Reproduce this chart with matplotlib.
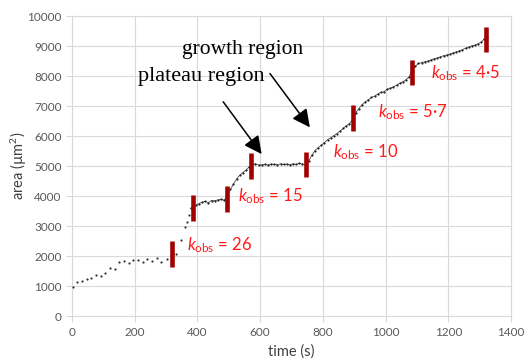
import matplotlib.pyplot as plt

plt.rcParams['mathtext.fontset'] = 'custom'
plt.rcParams['mathtext.rm'] = 'Lato'
plt.rcParams['mathtext.it'] = 'Lato:italic'

# early, sparse readings (every ~15 s)
t_early = [2, 17, 32, 47, 62, 77, 91, 106, 121, 136, 151, 166, 181, 196, 210,
           225, 240, 255, 270, 285, 302, 332, 347, 361, 366, 372]
a_early = [970, 1160, 1190, 1240, 1270, 1370, 1340, 1440, 1630, 1570, 1810, 1860,
           1790, 1880, 1870, 1830, 1910, 1860, 1960, 1810, 1910, 2070, 2530, 2980,
           3160, 3380]

# dense readings
t_dense = [378, 385, 395, 405, 415, 425, 435, 445, 455, 465, 475, 485,
           495, 505, 515, 525, 535, 545, 555, 565, 575, 585, 595, 605, 615, 625,
           635, 645, 655, 665, 675, 685, 695, 705, 715, 725, 735, 745, 755, 765,
           775, 785, 795, 805, 815, 825, 835, 845, 855, 865, 875, 885, 895, 905,
           915, 925, 935, 945, 955, 965, 975, 985, 995, 1005, 1015, 1025, 1035,
           1045, 1055, 1065, 1075, 1085, 1095, 1105, 1115, 1125, 1135, 1145, 1155,
           1165, 1175, 1185, 1195, 1205, 1215, 1225, 1235, 1245, 1255, 1265, 1275,
           1285, 1295, 1305, 1315, 1322]
a_dense = [3600, 3640, 3700, 3760, 3800, 3830, 3790, 3860, 3850, 3880,
           3900, 3870, 4000, 4230, 4400, 4580, 4700, 4790, 4870, 4980, 5060, 5080,
           5040, 5050, 5060, 5040, 5070, 5060, 5050, 5080, 5060, 5070, 5050, 5080,
           5060, 5100, 5070, 5050, 5180, 5370, 5520, 5620, 5700, 5790, 5880, 5950,
           6020, 6090, 6170, 6260, 6350, 6420, 6560, 6780, 6920, 7050, 7140, 7210,
           7290, 7330, 7400, 7460, 7480, 7560, 7600, 7640, 7700, 7760, 7810, 7880,
           7980, 8200, 8330, 8420, 8450, 8480, 8500, 8540, 8580, 8600, 8640, 8680,
           8700, 8730, 8770, 8800, 8840, 8880, 8930, 8960, 9010, 9030, 9080, 9130,
           9240, 9290]

# region boundaries (red bars)
bar_t = [318, 387, 493, 571, 746, 895, 1083, 1320]
bar_a = [2080, 3600, 3910, 5000, 5060, 6610, 8120, 9220]
bar_half = 430

k_labels = ['26', '15', '10', '5·7', '4·5']
k_t = [366, 530, 831, 977, 1144]
k_a = [2380, 4000, 5480, 6800, 8100]

fig = plt.figure(figsize=(5.25, 3.59), dpi=100)
ax = fig.add_axes([0.1371, 0.1184, 0.8362, 0.837])

ax.scatter(t_early, a_early, s=2.5, color='#303030', zorder=3, linewidths=0)
ax.plot(t_dense, a_dense, color='#505050', lw=0.6, zorder=2)
ax.scatter(t_dense, a_dense, s=2.5, color='#202020', zorder=3, linewidths=0)

for bt, ba in zip(bar_t, bar_a):
    ax.plot([bt, bt], [ba - bar_half, ba + bar_half], color='#A00000', lw=3.3,
            solid_capstyle='butt', zorder=4)

for lab, kt, ka in zip(k_labels, k_t, k_a):
    ax.text(kt, ka, r'$k_{\mathrm{obs}}$ = ' + lab, color='#FF1A1A', fontsize=12,
            family='Lato', va='center', ha='left')

ax.annotate('', xy=(610, 5330), xytext=(477, 7220),
            arrowprops=dict(arrowstyle='-|>,head_length=0.6,head_width=0.3',
                            color='k', lw=1.1, mutation_scale=18))
ax.annotate('', xy=(764, 6220), xytext=(626, 8160),
            arrowprops=dict(arrowstyle='-|>,head_length=0.6,head_width=0.3',
                            color='k', lw=1.1, mutation_scale=18))
ax.text(545, 8880, 'growth region', family='Liberation Serif', fontsize=15.5,
        ha='center', va='center')
ax.text(412, 7980, 'plateau region', family='Liberation Serif', fontsize=16,
        ha='center', va='center')

ax.set_xlim(0, 1400)
ax.set_ylim(0, 10000)
ax.set_xticks(range(0, 1401, 200))
ax.set_yticks(range(0, 10001, 1000))
ax.grid(True, color='#D9D9D9', lw=0.8)
ax.set_axisbelow(True)
for s in ax.spines.values():
    s.set_color('#D9D9D9')
    s.set_linewidth(0.8)
ax.tick_params(length=4, color='#D9D9D9', labelcolor='#595959', labelsize=8.5)
for lbl in ax.get_xticklabels() + ax.get_yticklabels():
    lbl.set_family('Lato')

ax.set_xlabel('time (s)', family='Lato', fontsize=10.5, color='#404040', labelpad=5)
ax.set_ylabel('area (µm$^2$)', family='Lato', fontsize=10.5, color='#404040', labelpad=-1)

fig.savefig('out.png', dpi=100)
